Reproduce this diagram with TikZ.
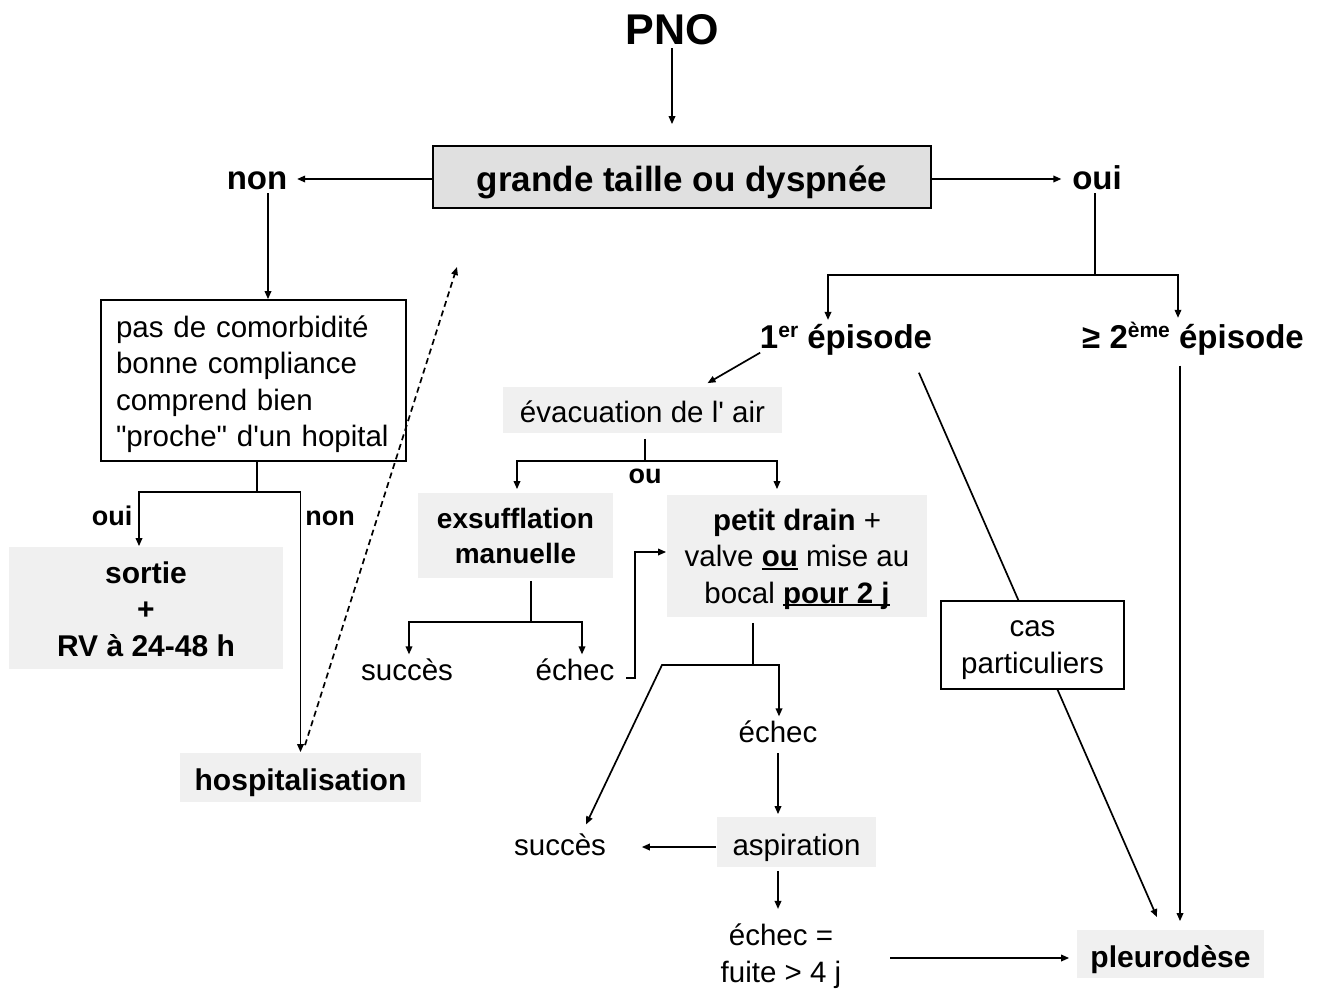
\documentclass[tikz,border=0pt]{standalone}
\usepackage{fontspec}
\setmainfont{Liberation Sans}
\usetikzlibrary{arrows.meta}
\definecolor{qgray}{HTML}{E0E0E0}
\definecolor{bgray}{HTML}{F0F0F0}
\font\rawq="Liberation Sans" at 29.5pt
\newcommand\ftP{\fontsize{43}{50}\selectfont\bfseries}
\newcommand\ftQ{\fontsize{35}{42}\selectfont\bfseries}
\newcommand\ftL{\fontsize{33}{40}\selectfont\bfseries}
\newcommand\ftS{\fontsize{27}{32}\selectfont\bfseries}
\newcommand\ftB{\fontsize{30}{36.5}\selectfont\bfseries}
\newcommand\ftX{\fontsize{28}{35}\selectfont\bfseries}
\newcommand\ftN{\fontsize{29.5}{36.5}\selectfont}
\newcommand\mysup[1]{\raisebox{0.33em}{\fontsize{21}{21}\selectfont #1}}
\newcommand\myul[1]{\setbox0\hbox{#1}\rlap{\rule[-3pt]{\wd0}{1.6pt}}\box0\relax}
\begin{document}
\begin{tikzpicture}[x=1pt,y=-1pt,line width=1.7pt,
  arr/.style={-{Triangle[length=8pt,width=6.5pt]}},
  lab/.style={inner sep=3pt,anchor=base},
  gbox/.style={fill=bgray,inner sep=0pt,align=center,text depth=0pt}]
\useasboundingbox (0,0) rectangle (1327,988);

% nodes
\node[lab,font=\ftP] (pno) at (672,44) {PNO};
\node[draw,fill=qgray,minimum width=498pt,minimum height=62pt,inner sep=0pt,text height=28pt,text depth=0pt,font=\ftQ] (q) at (682,177) {grande taille ou dyspnée};
\node[lab,font=\ftL] (non) at (257,189) {non};
\node[lab,font=\ftL] (oui) at (1097,189) {oui};
\node[lab,font=\ftL] (ep1) at (846,348) {1\mysup{er} épisode};
\node[lab,font=\ftL] (ep2) at (1193,348) {≥ 2\mysup{ème} épisode};
\node[draw,fill=white,text width=275pt,align=left,inner xsep=15pt,inner ysep=0pt,minimum height=161pt,text height=0pt,text depth=87pt,font=\ftN] (cond) at (253.5,380.5) {pas de comorbidité\\bonne compliance\\comprend bien\\{\rawq"}proche{\rawq"} d{\rawq'}un hopital};
\node[lab,font=\ftS] (lo) at (112,525) {oui};
\node[lab,font=\ftS] (ln) at (330,525) {non};
\node[gbox,minimum width=274pt,minimum height=122pt,text height=96pt,font=\ftB] (sortie) at (146,608) {sortie\\+\\RV à 24-48 h};
\node[gbox,minimum width=241pt,minimum height=49pt,text height=25pt,font=\ftB] (hosp) at (300.5,777.5) {hospitalisation};
\node[gbox,minimum width=279pt,minimum height=46pt,text height=24pt,font=\ftN] (evac) at (642.5,410) {évacuation de l{\rawq'} air};
\node[lab,font=\ftS] (ou) at (645,483) {ou};
\node[gbox,minimum width=195pt,minimum height=85pt,text height=55pt,font=\ftX] (exs) at (515.5,535.5) {exsufflation\\manuelle};
\node[gbox,minimum width=260pt,minimum height=122pt,text height=94pt,font=\ftN] (drain) at (797,556) {\textbf{petit drain} +\\valve \myul{\textbf{ou}} mise au\\bocal \myul{\textbf{pour 2 j}}};
\node[lab,font=\ftN] (succ1) at (407,680) {succès};
\node[lab,font=\ftN] (ech1) at (575,680) {échec};
\node[lab,font=\ftN] (ech2) at (778,742) {échec};
\node[lab,font=\ftN] (succ2) at (560,855) {succès};
\node[gbox,minimum width=159pt,minimum height=50pt,text height=26pt,font=\ftN] (asp) at (796.5,842) {aspiration};
\node[align=center,inner sep=3pt,font=\ftN] (fin) at (781,956) {échec =\\fuite > 4 j};
\node[gbox,minimum width=187pt,minimum height=48pt,text height=26pt,font=\ftB] (pleuro) at (1170.5,954) {pleurodèse};

% junctions
\coordinate (jo) at (1095,275);
\coordinate (jc) at (257,492);
\coordinate (je) at (645,461);
\coordinate (jx) at (531,622);
\coordinate (jd) at (753,665);
\coordinate (jl) at (662,665);
\coordinate (dtip) at (457,267);

% connectors
\draw[arr,shorten >=21pt] (pno.south) -- (pno.south |- q.north);
\draw[arr,shorten >=6pt] ([yshift=-2pt]q.west) -- ([yshift=-2pt]q.west -| non.east);
\draw[arr,shorten >=7pt] ([yshift=-2pt]q.east) -- ([yshift=-2pt]q.east -| oui.west);
\draw (oui.south -| jo) -- (jo);
\draw[arr] (jo) -| ([xshift=-18pt]ep1.north);
\draw[arr] (jo) -| ([xshift=-15pt]ep2.north);
\draw[arr] ([xshift=11pt]non.south) -- ([xshift=14.5pt]cond.north);
\draw ([xshift=3.5pt]cond.south) -- (jc);
\draw[arr] (jc) -| ([xshift=-7pt]sortie.north);
\draw[arr] (jc) -| (hosp.north);
\draw[arr,dash pattern=on 6pt off 4pt] ([xshift=4.5pt,yshift=7pt]hosp.north) -- (dtip);
\draw[arr] ([xshift=4pt,yshift=6pt]ep1.south west) -- ([xshift=65pt,yshift=3pt]evac.north);
\draw[arr] ([xshift=-17pt,yshift=-14pt]ep1.south east) -- ([xshift=-13.5pt,yshift=12pt]pleuro.north);
\draw[arr] ([xshift=-13pt,yshift=-7pt]ep2.south) -- ([xshift=9.5pt,yshift=8pt]pleuro.north);
\draw ([xshift=2.5pt,yshift=-5pt]evac.south) -- (je);
\draw[arr] (je) -| ([xshift=1.5pt,yshift=3pt]exs.north);
\draw[arr] (je) -| ([xshift=-20pt,yshift=5pt]drain.north);
\draw ([xshift=15.5pt,yshift=-2pt]exs.south) -- (jx);
\draw[arr] (jx) -| ([xshift=2pt]succ1.north);
\draw[arr] (jx) -| ([xshift=7pt]ech1.north);
\draw[arr] ([xshift=8pt,yshift=-9pt]ech1.east) -- ++(9,0) |- ([yshift=4pt]drain.west);
\draw ([xshift=-44pt,yshift=-5pt]drain.south) -- (jd);
\draw[arr] (jd) -| ([xshift=1pt]ech2.north);
\draw[arr] (jd) -- (jl) -- ([xshift=26pt,yshift=5pt]succ2.north);
\draw[arr] ([yshift=-7pt]ech2.south) -- ([xshift=-18.5pt,yshift=2pt]asp.north);
\draw[arr,shorten >=32pt] ([yshift=-5pt]asp.west) -- ([yshift=-5pt]asp.west -| succ2.east);
\draw[arr] ([xshift=-18.5pt,yshift=-3pt]asp.south) -- ([xshift=-3pt,yshift=11pt]fin.north);
\draw[arr,shorten <=45pt,shorten >=7pt] ([yshift=-2pt]fin.east) -- ([yshift=-2pt]fin.east -| pleuro.west);

\node[draw,fill=white,minimum width=183pt,minimum height=88pt,inner sep=0pt,align=center,text height=56pt,text depth=0pt,font=\ftN] (cas) at (1032.5,645) {cas\\particuliers};
\end{tikzpicture}
\end{document}
